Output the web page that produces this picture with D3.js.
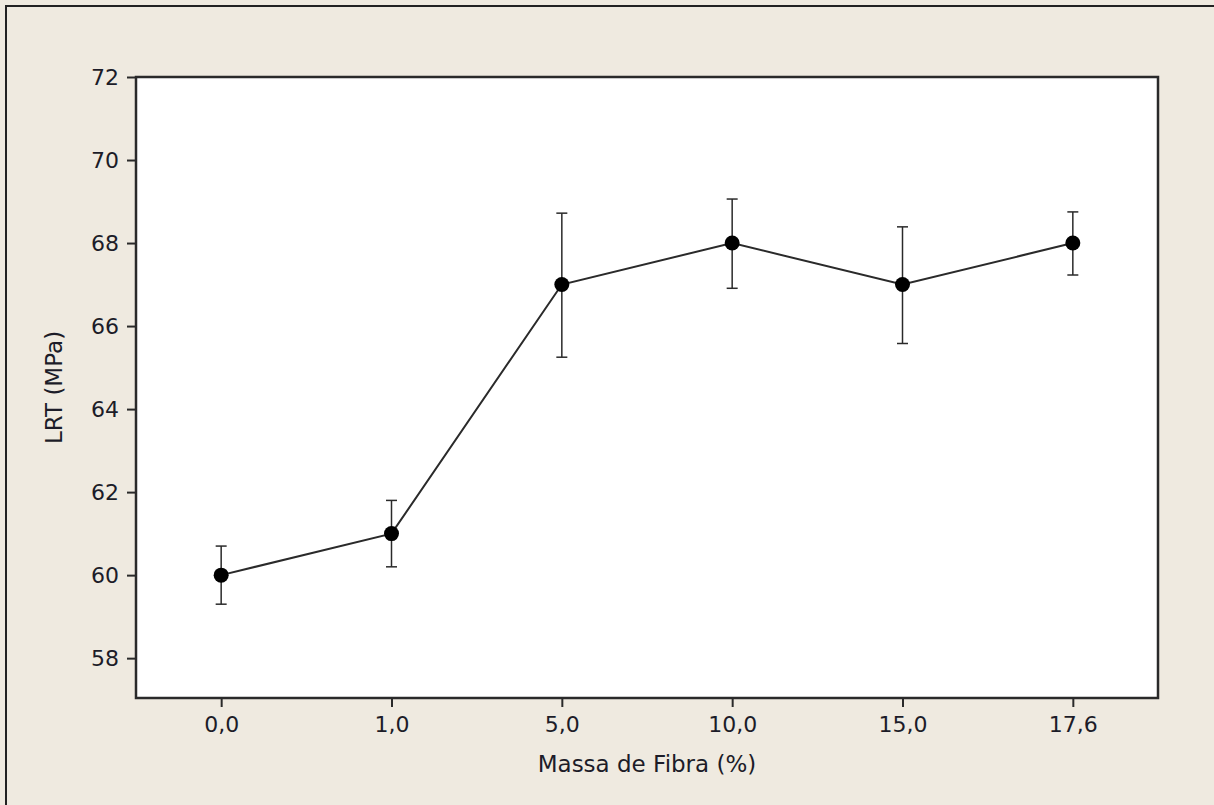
<!DOCTYPE html>
<html lang="pt">
<head>
  <meta charset="UTF-8">
  <title>LRT vs Massa de Fibra</title>
  <script src="https://d3js.org/d3.v7.min.js"></script>
  <style>
    body {
      margin: 0;
      overflow: hidden;
      background-color: #efeae0;
    }
    text {
      font-family: "DejaVu Sans", sans-serif;
      fill: #1c1c28;
    }
  </style>
</head>
<body>
  <svg id="chart"></svg>

  <script>
    // data
    const categories = ["0,0", "1,0", "5,0", "10,0", "15,0", "17,6"];
    const means = [60, 61, 67, 68, 67, 68];
    const upper = [60.70, 61.80, 68.72, 69.06, 68.39, 68.75];
    const lower = [59.30, 60.20, 65.25, 66.91, 65.58, 67.23];
    const yTicks = [58, 60, 62, 64, 66, 68, 70, 72];

    const width = 1214;
    const height = 805;
    const margin = {top: 77, right: 56, bottom: 107, left: 136};

    const svg = d3.select("#chart")
      .attr("width", width)
      .attr("height", height);

    // outer frame (only left / top edges visible in the screenshot)
    svg.append("rect")
      .attr("x", 6).attr("y", 6)
      .attr("width", width + 20).attr("height", height + 20)
      .attr("fill", "#efeae0")
      .attr("stroke", "#222")
      .attr("stroke-width", 2);

    const x = d3.scalePoint()
      .domain(categories)
      .range([margin.left, width - margin.right])
      .padding(0.5);

    const y = d3.scaleLinear()
      .domain([57.04, 72])
      .range([height - margin.bottom, margin.top]);

    // plot area
    svg.append("rect")
      .attr("x", margin.left)
      .attr("y", margin.top)
      .attr("width", width - margin.left - margin.right)
      .attr("height", height - margin.top - margin.bottom)
      .attr("fill", "#fff")
      .attr("stroke", "#2a2a2a")
      .attr("stroke-width", 2.5);

    // axes
    const yAxis = svg.append("g")
      .attr("transform", `translate(${margin.left},0)`)
      .call(d3.axisLeft(y).tickValues(yTicks).tickSize(9).tickPadding(8));

    const xAxis = svg.append("g")
      .attr("transform", `translate(0,${height - margin.bottom})`)
      .call(d3.axisBottom(x).tickSize(9).tickPadding(9));

    [xAxis, yAxis].forEach(g => {
      g.select(".domain").remove();
      g.selectAll(".tick line").attr("stroke", "#2a2a2a").attr("stroke-width", 2);
      g.selectAll(".tick text")
        .style("font-family", "DejaVu Sans, sans-serif")
        .style("font-size", "22px")
        .attr("fill", "#1c1c28");
    });

    // axis titles
    svg.append("text")
      .attr("x", (margin.left + width - margin.right) / 2)
      .attr("y", 772)
      .attr("text-anchor", "middle")
      .style("font-size", "23px")
      .text("Massa de Fibra (%)");

    svg.append("text")
      .attr("transform", `translate(62,${(margin.top + height - margin.bottom) / 2}) rotate(-90)`)
      .attr("text-anchor", "middle")
      .style("font-size", "23px")
      .text("LRT (MPa)");

    // error bars
    const capW = 5.5;
    const bars = svg.append("g")
      .attr("stroke", "#2a2a2a")
      .attr("stroke-width", 1.5)
      .selectAll("g")
      .data(categories)
      .join("g");

    bars.append("line")
      .attr("x1", d => x(d)).attr("x2", d => x(d))
      .attr("y1", (d, i) => y(upper[i]))
      .attr("y2", (d, i) => y(lower[i]));
    bars.append("line")
      .attr("x1", d => x(d) - capW).attr("x2", d => x(d) + capW)
      .attr("y1", (d, i) => y(upper[i])).attr("y2", (d, i) => y(upper[i]));
    bars.append("line")
      .attr("x1", d => x(d) - capW).attr("x2", d => x(d) + capW)
      .attr("y1", (d, i) => y(lower[i])).attr("y2", (d, i) => y(lower[i]));

    // connecting line
    const line = d3.line()
      .x((d, i) => x(categories[i]))
      .y(d => y(d));

    svg.append("path")
      .datum(means)
      .attr("fill", "none")
      .attr("stroke", "#2a2a2a")
      .attr("stroke-width", 2)
      .attr("d", line);

    // points
    svg.append("g")
      .selectAll("circle")
      .data(means)
      .join("circle")
      .attr("cx", (d, i) => x(categories[i]))
      .attr("cy", d => y(d))
      .attr("r", 7.5)
      .attr("fill", "#000");
  </script>
</body>
</html>
